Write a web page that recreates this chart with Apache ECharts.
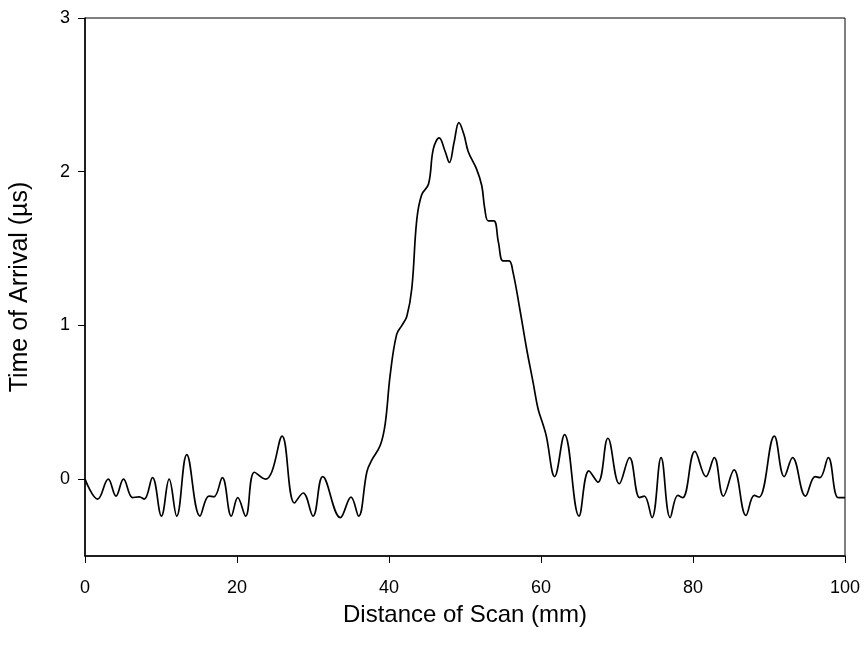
<!DOCTYPE html>
<html>
<head>
<meta charset="utf-8">
<script src="https://cdn.jsdelivr.net/npm/echarts@6/dist/echarts.min.js"></script>
<style>
  html, body { margin: 0; padding: 0; background: #fff; }
  #chart { width: 864px; height: 648px; }
</style>
</head>
<body>
<div id="chart"></div>
<script>
// scan distance (mm) and arrival time (us)
var scanDist = [
    0, 1.66, 3.06, 4.07, 5.07, 6.26, 7.13, 7.8, 8.88, 10.06,
    11.07, 12.07, 13.39, 15.13, 16.3, 16.97, 18.07, 19.25, 20.1, 21.13,
    22.3, 23.75, 24.6, 25.94, 27.56, 28.7, 30.0, 31.28, 33.6, 35.0,
    36.0, 37.1, 37.75, 38.85, 39.5, 40.16, 41.0, 41.7, 42.35, 43.0,
    43.66, 44.3, 45.2, 45.84, 46.6, 47.4, 47.95, 48.56, 49.2, 49.87,
    50.43, 51.5, 52.2, 52.6, 53.06, 53.8, 54.4, 55.0, 55.8, 56.3,
    57.2, 58.1, 58.96, 59.6, 60.3, 60.7, 61.8, 63.1, 65.0, 66.3,
    67.5, 68.8, 70.3, 71.65, 72.97, 73.6, 74.6, 75.8, 77.0, 78.0,
    78.65, 80.25, 81.7, 82.8, 84.0, 85.4, 86.97, 88.06, 88.7, 90.7,
    92.0, 93.1, 94.8, 96.06, 96.7, 97.8, 99.1, 100
];
var arrivalTime = [
    0, -0.13, 0, -0.11, 0, -0.12, -0.115, -0.13, 0.01, -0.24,
    0, -0.24, 0.16, -0.24, -0.11, -0.115, 0.01, -0.24, -0.12, -0.24,
    0.045, 0, 0.05, 0.28, -0.155, -0.09, -0.24, 0.017, -0.25, -0.117,
    -0.24, 0.05, 0.125, 0.22, 0.36, 0.68, 0.94, 1.0, 1.06, 1.24,
    1.69, 1.85, 1.92, 2.15, 2.22, 2.13, 2.06, 2.19, 2.32, 2.24,
    2.13, 2.02, 1.91, 1.76, 1.68, 1.68, 1.54, 1.42, 1.42, 1.35,
    1.11, 0.85, 0.63, 0.46, 0.35, 0.28, 0.017, 0.29, -0.24, 0.054,
    -0.02, 0.266, -0.03, 0.14, -0.12, -0.11, -0.25, 0.14, -0.25, -0.106,
    -0.12, 0.18, 0.017, 0.14, -0.11, 0.06, -0.236, -0.106, -0.117, 0.28,
    0.017, 0.14, -0.11, 0.017, 0.01, 0.14, -0.12, -0.12
];
var yTicks = [0, 1, 2, 3];

var points = [];
for (var i = 0; i < scanDist.length; i++) {
    points.push([scanDist[i], arrivalTime[i]]);
}

var myChart = echarts.init(document.getElementById('chart'));
var fontFam = '"Liberation Sans", Arial, sans-serif';

var option = {
    animation: false,
    grid: {
        left: 84, right: 19, top: 18, bottom: 92,
        show: true,
        borderColor: '#000',
        borderWidth: 1
    },
    xAxis: {
        type: 'value',
        min: 0, max: 100, interval: 20,
        name: 'Distance of Scan (mm)',
        nameLocation: 'middle',
        nameGap: 47,
        nameTextStyle: {color: '#000', fontSize: 24, fontFamily: fontFam},
        axisLine: {onZero: false, lineStyle: {color: '#000', width: 1.5}},
        axisTick: {inside: false, length: 7, lineStyle: {color: '#000'}},
        axisLabel: {color: '#000', fontSize: 18, fontFamily: fontFam, margin: 23},
        splitLine: {show: false}
    },
    yAxis: {
        type: 'value',
        min: -0.5, max: 3,
        name: 'Time of Arrival (µs)',
        nameLocation: 'middle',
        nameGap: 52,
        nameTextStyle: {color: '#000', fontSize: 25, fontFamily: fontFam},
        axisLine: {show: true, lineStyle: {color: '#000', width: 1.5}},
        axisTick: {show: true, length: 7, customValues: yTicks, lineStyle: {color: '#000'}},
        axisLabel: {color: '#000', fontSize: 18, fontFamily: fontFam, margin: 15, customValues: yTicks},
        splitLine: {show: false}
    },
    series: [{
        type: 'line',
        data: points,
        smooth: 0.4,
        symbol: 'none',
        lineStyle: {color: '#000', width: 1.7}
    }]
};

myChart.setOption(option);
</script>
</body>
</html>
